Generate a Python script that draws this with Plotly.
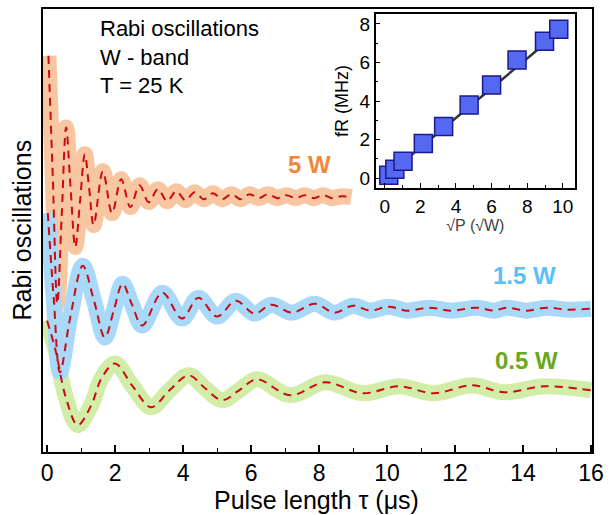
import plotly.graph_objects as go

# ---------------- data ----------------
# pulse length tau (us) and Rabi signal (arbitrary units) for each power
t_5W = [0.04, 0.17, 0.30, 0.43, 0.56, 0.69, 0.83, 0.97, 1.11, 1.24, 1.37, 1.64, 1.91,
        2.18, 2.45, 2.72, 2.99, 3.26, 3.53, 3.80, 4.07, 4.34, 4.61, 4.88, 5.15, 5.42,
        5.69, 5.96, 6.23, 6.50, 6.77, 7.04, 7.31, 7.58, 7.85, 8.12, 8.39, 8.66, 8.95]
s_5W = [398, 274, 149, 237, 326, 266, 206, 252, 299, 264, 228, 282, 240,
        274, 246, 268, 251, 264, 252, 262, 253, 261, 254, 260, 254, 259,
        254, 259, 255, 259, 255, 258, 255, 258, 255, 258, 255, 257, 256]

t_1p5W = [0.02, 0.20, 0.38, 0.68, 1.05, 1.38, 1.70, 1.96, 2.22, 2.50, 2.80, 3.39, 3.97,
          4.45, 5.00, 5.55, 6.10, 6.60, 7.20, 7.88, 8.45, 9.00, 9.50, 10.05, 10.60,
          11.24, 11.90, 12.64, 13.15, 13.50, 14.10, 14.70, 15.30, 16.00]
s_1p5W = [240, 152, 80, 135, 187, 152, 115, 142, 169, 148, 127, 160, 134,
          155, 136, 152, 139, 148, 140, 149, 140, 147, 142, 146, 142,
          145, 142, 145, 142, 145, 142, 145, 143, 144]

t_0p5W = [0.00, 0.25, 0.55, 0.90, 1.30, 1.60, 2.00, 2.50, 3.06, 3.60, 4.17, 4.65, 5.15,
          5.65, 6.17, 7.15, 8.18, 9.28, 10.36, 11.38, 12.50, 13.45, 14.63, 16.00]
s_0p5W = [132, 102, 55, 27, 47, 74, 89, 67, 45, 62, 77, 64, 52,
          62, 73, 57, 70, 59, 66, 59, 67, 60, 66, 62]

# inset: Rabi frequency vs sqrt(P)
sqrtP = [0.23, 0.57, 1.03, 2.17, 3.31, 4.74, 6.00, 7.43, 8.97, 9.77]
fR = [0.15, 0.46, 0.88, 1.80, 2.68, 3.80, 4.84, 6.13, 7.10, 7.73]
fit_x = [0.0, 10.0]
fit_y = [0.05, 7.75]

labels = ["5 W", "1.5 W", "0.5 W"]
label_t = [7.72, 14.05, 14.1]
label_s = [289, 177, 92]

x_ticks = [0, 2, 4, 6, 8, 10, 12, 14, 16]
inset_x_ticks = [0, 2, 4, 6, 8, 10]
inset_y_ticks = [0, 2, 4, 6, 8]

# ---------------- styles ----------------
FONT = "Liberation Sans, Arial, sans-serif"
band_col = {"5 W": "#F8C7A2", "1.5 W": "#A9D9F9", "0.5 W": "#D2EDA8"}
text_col = {"5 W": "#F0883A", "1.5 W": "#5CC0F8", "0.5 W": "#69A91C"}
FIT_COL = "#CC0A12"

series = {
    "5 W": (t_5W, s_5W),
    "1.5 W": (t_1p5W, s_1p5W),
    "0.5 W": (t_0p5W, s_0p5W),
}

fig = go.Figure()

# thick data bands (drawn first), order: green, orange, blue
for name in ["0.5 W", "5 W", "1.5 W"]:
    tx, sy = series[name]
    fig.add_trace(go.Scatter(
        x=tx, y=sy, mode="lines",
        line=dict(color=band_col[name], width=16, shape="spline", smoothing=1.0),
        hoverinfo="skip", showlegend=False))

# red dashed fits on top
for name in ["0.5 W", "5 W", "1.5 W"]:
    tx, sy = series[name]
    fig.add_trace(go.Scatter(
        x=tx, y=sy, mode="lines",
        line=dict(color=FIT_COL, width=2, dash="8px,6px", shape="spline", smoothing=1.0),
        hoverinfo="skip", showlegend=False))

# inset
fig.add_trace(go.Scatter(
    x=fit_x, y=fit_y, mode="lines", xaxis="x2", yaxis="y2",
    line=dict(color="#333333", width=2.5), hoverinfo="skip", showlegend=False))
fig.add_trace(go.Scatter(
    x=sqrtP, y=fR, mode="markers", xaxis="x2", yaxis="y2",
    marker=dict(symbol="square", size=18, color="#5568F2",
                line=dict(color="#1A1A8C", width=1.5)),
    hoverinfo="skip", showlegend=False))

# power labels
for name, lt, ls in zip(labels, label_t, label_s):
    fig.add_annotation(x=lt, y=ls, xref="x", yref="y", text="<b>%s</b>" % name,
                       xanchor="center", yanchor="middle",
                       showarrow=False, font=dict(family=FONT, size=24, color=text_col[name]))

# info text
fig.add_annotation(xref="paper", yref="paper", x=0.1, y=0.988, xanchor="left", yanchor="top",
                   text="Rabi oscillations<br>W - band<br>T = 25 K", align="left",
                   showarrow=False, font=dict(family=FONT, size=22, color="#000000"))

# axis titles as annotations
fig.add_annotation(xref="paper", yref="paper", x=0, y=0.5, xshift=-22, textangle=-90,
                   xanchor="center", yanchor="middle",
                   text="Rabi oscillations", showarrow=False,
                   font=dict(family=FONT, size=25, color="#000000"))
fig.add_annotation(xref="paper", yref="paper", x=0.498, y=0, yshift=-48,
                   xanchor="center", yanchor="middle",
                   text="Pulse length \u03c4 (\u03bcs)", showarrow=False,
                   font=dict(family=FONT, size=25, color="#000000"))

fig.update_layout(
    width=611, height=515,
    margin=dict(l=43, r=15, t=7, b=63),
    paper_bgcolor="white", plot_bgcolor="white",
    showlegend=False, hovermode=False,
    font=dict(family=FONT, color="#000000"),
    xaxis=dict(range=[-0.12, 16.03], showline=True, linecolor="black", linewidth=1.5,
               mirror=True, ticks="inside", ticklen=7, tickwidth=1.5, tickcolor="black",
               tickvals=x_ticks, showgrid=False, zeroline=False,
               tickfont=dict(family=FONT, size=23, color="#000000"),
               minor=dict(ticks="inside", ticklen=4, tickwidth=1.2, dtick=1, tick0=0,
                          tickcolor="black", showgrid=False)),
    yaxis=dict(range=[0, 445], showline=True, linecolor="black", linewidth=1.5,
               mirror=True, ticks="", showticklabels=False, showgrid=False, zeroline=False),
    xaxis2=dict(domain=[0.6058, 0.9693], anchor="y2", range=[-0.51, 10.69],
                showline=True, linecolor="black", linewidth=1.5, mirror=True,
                ticks="inside", ticklen=5, tickwidth=1.2, tickcolor="black",
                tickvals=inset_x_ticks, showgrid=False, zeroline=False,
                tickfont=dict(family=FONT, size=19, color="#000000"),
                minor=dict(ticks="inside", ticklen=3, dtick=1, tick0=0, tickcolor="black"),
                title=dict(text="\u221aP (\u221aW)", standoff=4,
                           font=dict(family=FONT, size=16, color="#444444"))),
    yaxis2=dict(domain=[0.5955, 0.9888], anchor="x2", range=[-0.52, 8.52],
                showline=True, linecolor="black", linewidth=1.5, mirror=True,
                ticks="inside", ticklen=5, tickwidth=1.2, tickcolor="black",
                tickvals=inset_y_ticks, showgrid=False, zeroline=False,
                tickfont=dict(family=FONT, size=19, color="#000000"),
                minor=dict(ticks="inside", ticklen=3, dtick=1, tick0=0, tickcolor="black"),
                title=dict(text="fR (MHz)", standoff=6,
                           font=dict(family=FONT, size=18, color="#000000"))),
)

fig.write_html("out.html")
